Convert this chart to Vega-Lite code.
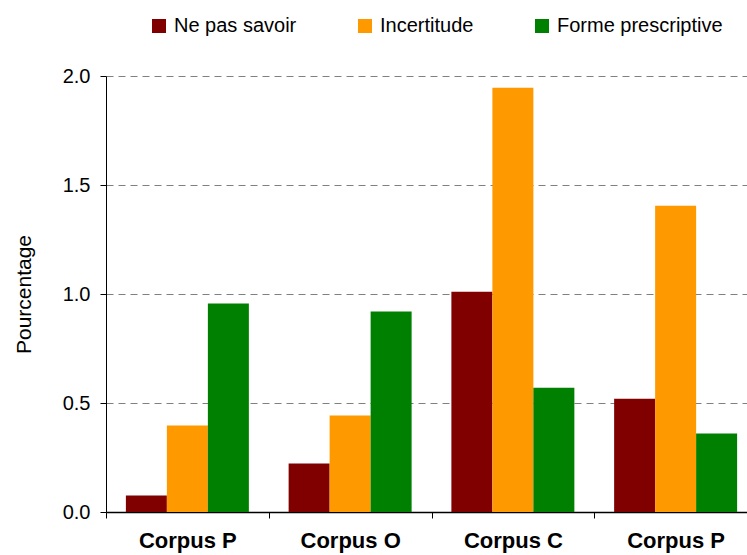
{
  "$schema": "https://vega.github.io/schema/vega-lite/v6.json",
  "autosize": {"type": "none"},
  "padding": {"left": 106, "top": 76, "right": 0, "bottom": 43},
  "width": 651,
  "height": 436,
  "background": "white",
  "config": {
    "font": "Liberation Sans",
    "view": {"stroke": null}
  },
  "data": {
    "values": [
      {"corpus": "Corpus P1", "serie": "Ne pas savoir", "valeur": 0.076},
      {"corpus": "Corpus P1", "serie": "Incertitude", "valeur": 0.397},
      {"corpus": "Corpus P1", "serie": "Forme prescriptive", "valeur": 0.956},
      {"corpus": "Corpus O", "serie": "Ne pas savoir", "valeur": 0.222},
      {"corpus": "Corpus O", "serie": "Incertitude", "valeur": 0.443},
      {"corpus": "Corpus O", "serie": "Forme prescriptive", "valeur": 0.92},
      {"corpus": "Corpus C", "serie": "Ne pas savoir", "valeur": 1.01},
      {"corpus": "Corpus C", "serie": "Incertitude", "valeur": 1.946},
      {"corpus": "Corpus C", "serie": "Forme prescriptive", "valeur": 0.57},
      {"corpus": "Corpus P2", "serie": "Ne pas savoir", "valeur": 0.52},
      {"corpus": "Corpus P2", "serie": "Incertitude", "valeur": 1.405},
      {"corpus": "Corpus P2", "serie": "Forme prescriptive", "valeur": 0.36}
    ]
  },
  "mark": {"type": "bar"},
  "encoding": {
    "x": {
      "field": "corpus",
      "type": "nominal",
      "sort": ["Corpus P1", "Corpus O", "Corpus C", "Corpus P2"],
      "scale": {"paddingInner": 0, "paddingOuter": 0},
      "axis": {
        "title": null,
        "labelAngle": 0,
        "labelExpr": "slice(datum.label, 0, 8)",
        "labelFont": "Liberation Sans",
        "labelFontSize": 22,
        "labelFontWeight": "bold",
        "labelColor": "black",
        "labelPadding": 12,
        "labelLimit": 0,
        "tickBand": "extent",
        "tickSize": 6,
        "tickColor": "black",
        "domainColor": "black",
        "domainWidth": 1.5,
        "grid": false
      }
    },
    "xOffset": {
      "field": "serie",
      "type": "nominal",
      "sort": ["Ne pas savoir", "Incertitude", "Forme prescriptive"],
      "scale": {"paddingInner": 0, "paddingOuter": 0.485}
    },
    "y": {
      "field": "valeur",
      "type": "quantitative",
      "scale": {"domain": [0, 2], "nice": false},
      "axis": {
        "title": "Pourcentage",
        "titleFont": "Liberation Sans",
        "titleFontSize": 21,
        "titleFontWeight": "normal",
        "titleColor": "black",
        "titlePadding": 28,
        "values": [0, 0.5, 1, 1.5, 2],
        "format": ".1f",
        "labelFont": "Liberation Sans",
        "labelFontSize": 20,
        "labelColor": "black",
        "labelPadding": 10,
        "tickSize": 6,
        "tickColor": "black",
        "domainColor": "black",
        "grid": true,
        "gridColor": "#808080",
        "gridDash": [7, 5],
        "gridWidth": 1
      }
    },
    "color": {
      "field": "serie",
      "type": "nominal",
      "sort": ["Ne pas savoir", "Incertitude", "Forme prescriptive"],
      "scale": {
        "domain": ["Ne pas savoir", "Incertitude", "Forme prescriptive"],
        "range": ["#800000", "#FF9900", "#008000"]
      },
      "legend": {
        "title": null,
        "orient": "none",
        "direction": "horizontal",
        "legendX": 43,
        "legendY": -60,
        "symbolType": "square",
        "symbolSize": 196,
        "symbolStrokeWidth": 0,
        "labelFont": "Liberation Sans",
        "labelFontSize": 20,
        "labelColor": "black",
        "labelOffset": 5,
        "labelLimit": 0,
        "columnPadding": 58
      }
    }
  }
}
